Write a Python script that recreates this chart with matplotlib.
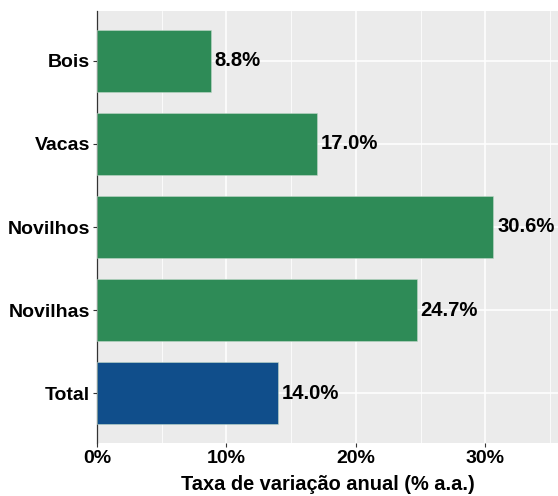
import numpy as np
import matplotlib
matplotlib.use("Agg")
import matplotlib.pyplot as plt
from matplotlib.ticker import MultipleLocator, FuncFormatter

# dados
categorias = ["Total", "Novilhas", "Novilhos", "Vacas", "Bois"]
taxas = [14.0, 24.7, 30.6, 17.0, 8.8]
cores = ["#104E8B", "#2E8B57", "#2E8B57", "#2E8B57", "#2E8B57"]
xticks = [0, 10, 20, 30]

plt.rcParams['font.family'] = ['Liberation Sans', 'DejaVu Sans']
plt.rcParams['font.weight'] = 'bold'

fig = plt.figure(figsize=(5.58, 4.96), dpi=100)
ax = fig.add_axes([97/558, 1-443/496, 461/558, 432/496])
ax.set_facecolor("#EBEBEB")

pos = np.arange(1, len(categorias)+1)
ax.barh(pos, taxas, height=0.75, color=cores, edgecolor="#BFD8C8", linewidth=0.4, zorder=3)
for p, v in zip(pos, taxas):
    ax.text(v + 0.3, p, f"{v:.1f}%", va="center", ha="left", fontsize=14.6,
            fontweight="bold", color="black", zorder=4)

ax.set_xlim(0, 35.6)
ax.set_ylim(0.4, 5.6)
ax.set_yticks(pos)
ax.set_yticklabels(categorias, fontsize=14, fontweight="bold", color="black")
ax.set_xticks(xticks)
ax.xaxis.set_minor_locator(MultipleLocator(5))
ax.xaxis.set_major_formatter(FuncFormatter(lambda x, _: f"{x:.0f}%"))
for lab in ax.get_xticklabels():
    lab.set_fontsize(14)
    lab.set_fontweight("bold")

ax.grid(True, axis="x", which="major", color="white", linewidth=1.1, zorder=0)
ax.grid(True, axis="x", which="minor", color="white", linewidth=0.55, zorder=0)
ax.grid(True, axis="y", which="major", color="white", linewidth=1.1, zorder=0)
ax.tick_params(axis="both", which="major", length=3, width=0.8, color="#333333", pad=2)
ax.tick_params(axis="x", which="minor", length=0)
for s in ["top", "right", "bottom"]:
    ax.spines[s].set_visible(False)
ax.spines["left"].set_color("#333333")
ax.spines["left"].set_linewidth(0.9)

ax.set_xlabel("Taxa de variação anual (% a.a.)", fontsize=14.4, fontweight="bold", labelpad=6)

fig.savefig("out.png", dpi=100)
